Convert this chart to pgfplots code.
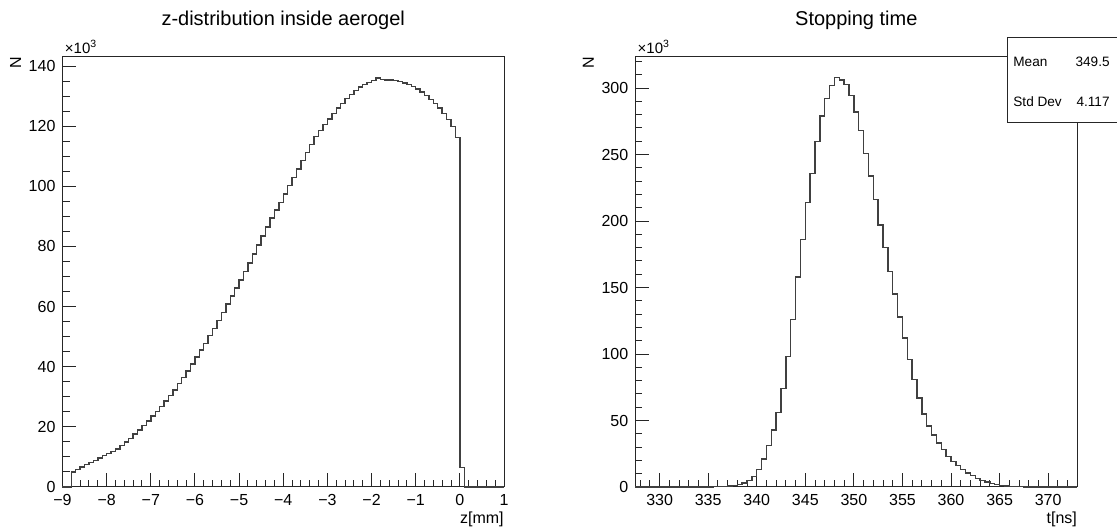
\documentclass[border=0pt]{standalone}
\usepackage{fontspec}
\setmainfont{Liberation Sans}
\usepackage{pgfplots}
\pgfplotsset{compat=1.18}
\pgfplotstableread{
x y
-9 0
-8.8 5.0
-8.7 5.8
-8.6 6.6
-8.5 7.4
-8.4 8.1
-8.3 8.8
-8.2 9.6
-8.1 10.4
-8.0 11.2
-7.9 11.9
-7.8 12.7
-7.7 13.8
-7.6 14.9
-7.5 16.2
-7.4 17.6
-7.3 19.0
-7.2 20.5
-7.1 22.0
-7.0 23.6
-6.9 25.2
-6.8 26.8
-6.7 28.6
-6.6 30.4
-6.5 32.3
-6.4 34.4
-6.3 36.4
-6.2 38.6
-6.1 40.9
-6.0 43.2
-5.9 45.5
-5.8 47.8
-5.7 50.3
-5.6 52.8
-5.5 55.4
-5.4 58.1
-5.3 60.8
-5.2 63.5
-5.1 66.2
-5.0 68.9
-4.9 71.7
-4.8 74.5
-4.7 77.5
-4.6 80.5
-4.5 83.5
-4.4 86.5
-4.3 89.5
-4.2 92.1
-4.1 94.7
-4.0 97.4
-3.9 100.2
-3.8 103.0
-3.7 105.8
-3.6 108.6
-3.5 111.3
-3.4 113.9
-3.3 116.5
-3.2 118.5
-3.1 120.5
-3.0 122.4
-2.9 124.2
-2.8 126.0
-2.7 127.6
-2.6 129.2
-2.5 130.6
-2.4 131.8
-2.3 133.0
-2.2 133.8
-2.1 134.6
-2.0 135.1
-1.9 136.0
-1.8 135.5
-1.7 135.4
-1.6 135.3
-1.5 135.1
-1.4 134.8
-1.3 134.4
-1.2 133.8
-1.1 133.1
-1.0 132.3
-0.9 131.3
-0.8 130.2
-0.7 128.9
-0.6 127.5
-0.5 126.0
-0.4 124.3
-0.3 122.3
-0.2 119.8
-0.1 116.3
0.0 6.5
0.1 0
1.0 0
}\zdist
\pgfplotstableread{
x y
327.5 0
335.5 0.2
336.0 0.3
336.5 0.5
337.0 0.8
337.5 1.3
338.0 2.0
338.5 3.0
339.0 5.0
339.5 8.0
340.0 13
340.5 21
341.0 31
341.5 43
342.0 56
342.5 74
343.0 98
343.5 126
344.0 158
344.5 186
345.0 214
345.5 236
346.0 260
346.5 279
347.0 292
347.5 302
348.0 308
348.5 306
349.0 302.5
349.5 294.5
350.0 282
350.5 268
351.0 251
351.5 234
352.0 216
352.5 197
353.0 180
353.5 162
354.0 145
354.5 128
355.0 112
355.5 96
356.0 81
356.5 67
357.0 55
357.5 46
358.0 39
358.5 33
359.0 28
359.5 23
360.0 19
360.5 16
361.0 13
361.5 10.5
362.0 8.5
362.5 6.5
363.0 5.0
363.5 3.7
364.0 2.7
364.5 1.9
365.0 1.3
365.5 0.9
366.0 0.6
366.5 0.4
367.0 0.2
367.5 0
373 0
}\stime
\pgfplotsset{
  rootax/.style={
    scale only axis, clip=false,
    axis line style={line width=0.5pt, black!85},
    tick align=inside, xtick pos=bottom, ytick pos=left,
    major tick length=6.75pt, minor tick length=3.5pt,
    every tick/.style={black!85, line width=0.5pt},
    tick label style={font=\fontsize{8}{9.6}\selectfont},
    /pgf/number format/assume math mode=true,
    scaled y ticks=false,
  },
  histo/.style={const plot, line width=0.7pt, color=black!75, mark=none},
}
\newcommand{\ttl}{\fontsize{10}{12}\selectfont}
\begin{document}
\begin{tikzpicture}
\useasboundingbox (0pt,0pt) rectangle (558.5pt,264.5pt);
% left
\begin{axis}[rootax, at={(31.25pt,21pt)}, anchor=south west,
  width=220.75pt, height=215pt,
  xmin=-9, xmax=1, ymin=0, ymax=143,
  xtick={-9,-8,...,1},
  xticklabels={−9,−8,−7,−6,−5,−4,−3,−2,−1,0,1},
  minor xtick={-8.8,-8.6,-8.4,-8.2,-7.8,-7.6,-7.4,-7.2,-6.8,-6.6,-6.4,-6.2,-5.8,-5.6,-5.4,-5.2,-4.8,-4.6,-4.4,-4.2,-3.8,-3.6,-3.4,-3.2,-2.8,-2.6,-2.4,-2.2,-1.8,-1.6,-1.4,-1.2,-0.8,-0.6,-0.4,-0.2,0.2,0.4,0.6,0.8},
  ytick={0,20,...,140},
  minor ytick={0,5,...,140},
]
\addplot[histo] table[x=x,y=y] {\zdist};
\node[anchor=base, font=\ttl] at ([yshift=15.5pt]rel axis cs:0.5,1) {z-distribution inside aerogel};
\node[anchor=south west, inner sep=0, font=\fontsize{7.5}{9}\selectfont] at ([xshift=1pt,yshift=1.5pt]rel axis cs:0,1) {×10\textsuperscript{3}};
\node[rotate=90, anchor=east, inner sep=0, font=\fontsize{8}{9.6}\selectfont] at ([xshift=-23.5pt]rel axis cs:0,1) {N};
\node[anchor=east, inner sep=0, font=\fontsize{8}{9.6}\selectfont] at ([yshift=-16pt]rel axis cs:1,0) {z[mm]};
\end{axis}
% right
\begin{axis}[rootax, at={(317.65pt,21pt)}, anchor=south west,
  width=221pt, height=215pt,
  xmin=327.5, xmax=373, ymin=0, ymax=323.4,
  xtick={330,335,...,370},
  minor xtick={328,329,...,372},
  ytick={0,50,...,300},
  minor ytick={0,10,...,320},
]
\addplot[histo] table[x=x,y=y] {\stime};
\node[anchor=base, font=\ttl] at ([yshift=15.5pt]rel axis cs:0.5,1) {Stopping time};
\node[anchor=south west, inner sep=0, font=\fontsize{7.5}{9}\selectfont] at ([xshift=1pt,yshift=1.5pt]rel axis cs:0,1) {×10\textsuperscript{3}};
\node[rotate=90, anchor=east, inner sep=0, font=\fontsize{8}{9.6}\selectfont] at ([xshift=-23.5pt]rel axis cs:0,1) {N};
\node[anchor=east, inner sep=0, font=\fontsize{8}{9.6}\selectfont] at ([yshift=-16pt]rel axis cs:1,0) {t[ns]};
\end{axis}
% stats box
\draw[draw=black!85, fill=white, line width=0.5pt] (503.5pt,203.15pt) rectangle (562pt,245.85pt);
\node[anchor=west, inner sep=0, font=\fontsize{6.8}{8}\selectfont] at (506.5pt,233.65pt) {Mean};
\node[anchor=east, inner sep=0, font=\fontsize{6.8}{8}\selectfont] at (555pt,233.65pt) {349.5};
\node[anchor=west, inner sep=0, font=\fontsize{6.8}{8}\selectfont] at (506.5pt,213.65pt) {Std Dev};
\node[anchor=east, inner sep=0, font=\fontsize{6.8}{8}\selectfont] at (555pt,213.65pt) {4.117};
\end{tikzpicture}
\end{document}
